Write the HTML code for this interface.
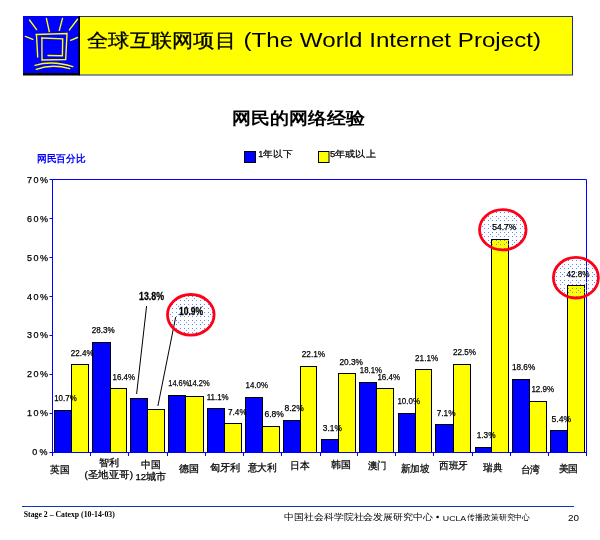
<!DOCTYPE html>
<html><head><meta charset="utf-8"><title>World Internet Project</title>
<style>
html,body{margin:0;padding:0;background:#fff;}
body{width:600px;height:540px;overflow:hidden;font-family:"Liberation Sans",sans-serif;}
svg{display:block;will-change:transform;}
text{font-family:"Liberation Sans",sans-serif;}
.l{stroke:#000;stroke-width:0.25px;}
.h{stroke:#000;stroke-width:0.3px;}
</style></head><body>
<svg width="600" height="540" viewBox="0 0 600 540">
<defs>
<pattern id="dots" x="0" y="0" width="8" height="8" patternUnits="userSpaceOnUse">
<rect x="0" y="0" width="1" height="1" fill="#5a8cff"/>
<rect x="4" y="0" width="1" height="1" fill="#5a8cff"/>
<rect x="0" y="4" width="1" height="1" fill="#5a8cff"/>
<rect x="4" y="4" width="1" height="1" fill="#5a8cff"/>
<rect x="2" y="2" width="1" height="1" fill="#5a8cff"/>
</pattern>
</defs>

<rect x="79.5" y="16.5" width="493" height="58.5" fill="#ffff00" stroke="#1a2f8c" stroke-width="1"/>
<rect x="23" y="16" width="57" height="59.5" fill="#000"/>
<rect x="23" y="16" width="55.3" height="57" fill="#0000ff"/>
<path d="M29.5,20 L36.6,29.6" fill="none" stroke="#ffff00" stroke-width="1.4" stroke-linecap="round"/>
<path d="M46.4,18.4 L49.3,31.6" fill="none" stroke="#ffff00" stroke-width="1.4" stroke-linecap="round"/>
<path d="M25.3,36.4 L32.8,39.4" fill="none" stroke="#ffff00" stroke-width="1.4" stroke-linecap="round"/>
<path d="M62.5,18.4 L59.3,30.4" fill="none" stroke="#ffff00" stroke-width="1.4" stroke-linecap="round"/>
<path d="M77.5,19.3 L69.4,29.9" fill="none" stroke="#ffff00" stroke-width="1.4" stroke-linecap="round"/>
<path d="M70.6,40.3 L77.5,37.5" fill="none" stroke="#ffff00" stroke-width="1.4" stroke-linecap="round"/>
<path d="M36,34.5 L67,33.5 L65.7,59.5 L42,60" fill="none" stroke="#ffff00" stroke-width="1.4" stroke-linecap="round"/>
<path d="M36.5,35 L37.7,57" fill="none" stroke="#ffff00" stroke-width="1.4" stroke-linecap="round"/>
<path d="M41.9,38 L62.7,38.9 L62.4,55.7 L48,55.5" fill="none" stroke="#ffff00" stroke-width="1.4" stroke-linecap="round"/>
<path d="M41.9,38 L42,60" fill="none" stroke="#ffff00" stroke-width="1.4" stroke-linecap="round"/>
<path d="M35,65.4 Q52,60 72.8,66.6" fill="none" stroke="#ffff00" stroke-width="1.4" stroke-linecap="round"/>
<path d="M36.2,69.3 Q52,63.5 69.6,68.7" fill="none" stroke="#ffff00" stroke-width="1.4" stroke-linecap="round"/>
<text class="h" x="87" y="47" font-size="19" fill="#000" textLength="149" lengthAdjust="spacingAndGlyphs">全球互联网项目</text>
<text x="243.5" y="47.3" font-size="21" fill="#000" textLength="297.5" lengthAdjust="spacingAndGlyphs">(The World Internet Project)</text>
<text x="232" y="124.2" font-size="16.5" font-weight="bold" fill="#000" textLength="133" lengthAdjust="spacingAndGlyphs">网民的网络经验</text>
<rect x="244.5" y="151.5" width="11" height="11" fill="#0000ff" stroke="#000" stroke-width="1"/>
<text class="l" x="258.3" y="156.6" font-size="8.5" fill="#000" textLength="33.8" lengthAdjust="spacingAndGlyphs">1年以下</text>
<rect x="318.5" y="151.5" width="10.5" height="11" fill="#ffff00" stroke="#000" stroke-width="1"/>
<text class="l" x="330" y="156.6" font-size="8.5" fill="#000" textLength="45.6" lengthAdjust="spacingAndGlyphs">5年或以上</text>
<text x="37" y="162" font-size="9.5" font-weight="bold" fill="#0000ff" textLength="48.6" lengthAdjust="spacingAndGlyphs">网民百分比</text>
<rect x="52.5" y="179.5" width="534.0" height="273.0" fill="#fff" stroke="none"/>
<rect x="54.5" y="410.5" width="17.0" height="42.0" fill="#0000ff" stroke="#000" stroke-width="1"/>
<rect x="71.5" y="364.5" width="17.0" height="88.0" fill="#ffff00" stroke="#000" stroke-width="1"/>
<rect x="92.5" y="342.5" width="18.0" height="110.0" fill="#0000ff" stroke="#000" stroke-width="1"/>
<rect x="110.5" y="388.5" width="16.0" height="64.0" fill="#ffff00" stroke="#000" stroke-width="1"/>
<rect x="130.5" y="398.5" width="17.0" height="54.0" fill="#0000ff" stroke="#000" stroke-width="1"/>
<rect x="147.5" y="409.5" width="17.0" height="43.0" fill="#ffff00" stroke="#000" stroke-width="1"/>
<rect x="168.5" y="395.5" width="17.0" height="57.0" fill="#0000ff" stroke="#000" stroke-width="1"/>
<rect x="185.5" y="396.5" width="18.0" height="56.0" fill="#ffff00" stroke="#000" stroke-width="1"/>
<rect x="207.5" y="408.5" width="17.0" height="44.0" fill="#0000ff" stroke="#000" stroke-width="1"/>
<rect x="224.5" y="423.5" width="17.0" height="29.0" fill="#ffff00" stroke="#000" stroke-width="1"/>
<rect x="245.5" y="397.5" width="17.0" height="55.0" fill="#0000ff" stroke="#000" stroke-width="1"/>
<rect x="262.5" y="426.5" width="17.0" height="26.0" fill="#ffff00" stroke="#000" stroke-width="1"/>
<rect x="283.5" y="420.5" width="17.0" height="32.0" fill="#0000ff" stroke="#000" stroke-width="1"/>
<rect x="300.5" y="366.5" width="16.0" height="86.0" fill="#ffff00" stroke="#000" stroke-width="1"/>
<rect x="321.5" y="439.5" width="17.0" height="13.0" fill="#0000ff" stroke="#000" stroke-width="1"/>
<rect x="338.5" y="373.5" width="17.0" height="79.0" fill="#ffff00" stroke="#000" stroke-width="1"/>
<rect x="359.5" y="382.5" width="17.0" height="70.0" fill="#0000ff" stroke="#000" stroke-width="1"/>
<rect x="376.5" y="388.5" width="17.0" height="64.0" fill="#ffff00" stroke="#000" stroke-width="1"/>
<rect x="398.5" y="413.5" width="17.0" height="39.0" fill="#0000ff" stroke="#000" stroke-width="1"/>
<rect x="415.5" y="369.5" width="16.0" height="83.0" fill="#ffff00" stroke="#000" stroke-width="1"/>
<rect x="435.5" y="424.5" width="18.0" height="28.0" fill="#0000ff" stroke="#000" stroke-width="1"/>
<rect x="453.5" y="364.5" width="17.0" height="88.0" fill="#ffff00" stroke="#000" stroke-width="1"/>
<rect x="475.5" y="447.5" width="16.0" height="5.0" fill="#0000ff" stroke="#000" stroke-width="1"/>
<rect x="491.5" y="239.5" width="17.0" height="213.0" fill="#ffff00" stroke="#000" stroke-width="1"/>
<rect x="512.5" y="379.5" width="17.0" height="73.0" fill="#0000ff" stroke="#000" stroke-width="1"/>
<rect x="529.5" y="401.5" width="17.0" height="51.0" fill="#ffff00" stroke="#000" stroke-width="1"/>
<rect x="550.5" y="430.5" width="17.0" height="22.0" fill="#0000ff" stroke="#000" stroke-width="1"/>
<rect x="567.5" y="285.5" width="17.0" height="167.0" fill="#ffff00" stroke="#000" stroke-width="1"/>
<path d="M52.5,456.0 L52.5,179.5 L586.5,179.5 L586.5,456.0 M52.5,452.5 L586.5,452.5" fill="none" stroke="#0000ff" stroke-width="1"/>
<path d="M49.5,452.5 L52.5,452.5 M49.5,413.5 L52.5,413.5 M49.5,374.5 L52.5,374.5 M49.5,335.5 L52.5,335.5 M49.5,296.5 L52.5,296.5 M49.5,257.5 L52.5,257.5 M49.5,218.5 L52.5,218.5 M49.5,179.5 L52.5,179.5 M52.5,452.5 L52.5,456.0 M90.5,452.5 L90.5,456.0 M128.5,452.5 L128.5,456.0 M167.5,452.5 L167.5,456.0 M205.5,452.5 L205.5,456.0 M243.5,452.5 L243.5,456.0 M281.5,452.5 L281.5,456.0 M320.5,452.5 L320.5,456.0 M357.5,452.5 L357.5,456.0 M395.5,452.5 L395.5,456.0 M433.5,452.5 L433.5,456.0 M472.5,452.5 L472.5,456.0 M510.5,452.5 L510.5,456.0 M548.5,452.5 L548.5,456.0 M586.5,452.5 L586.5,456.0" fill="none" stroke="#0000ff" stroke-width="1"/>
<text class="l" x="32.3" y="454.80" font-size="9" fill="#000" textLength="15.3" lengthAdjust="spacing">0%</text>
<text class="l" x="27.1" y="415.99" font-size="9" fill="#000" textLength="21" lengthAdjust="spacing">10%</text>
<text class="l" x="27.1" y="377.17" font-size="9" fill="#000" textLength="21" lengthAdjust="spacing">20%</text>
<text class="l" x="27.1" y="338.36" font-size="9" fill="#000" textLength="21" lengthAdjust="spacing">30%</text>
<text class="l" x="27.1" y="299.54" font-size="9" fill="#000" textLength="21" lengthAdjust="spacing">40%</text>
<text class="l" x="27.1" y="260.73" font-size="9" fill="#000" textLength="21" lengthAdjust="spacing">50%</text>
<text class="l" x="27.1" y="221.92" font-size="9" fill="#000" textLength="21" lengthAdjust="spacing">60%</text>
<text class="l" x="27.1" y="183.10" font-size="9" fill="#000" textLength="21" lengthAdjust="spacing">70%</text>
<path d="M146.6,306 L136.6,394 M175.7,317 L157.9,406" fill="none" stroke="#000" stroke-width="1"/>
<text class="l" x="54.2" y="400.8" font-size="9" fill="#000" textLength="22.5" lengthAdjust="spacingAndGlyphs">10.7%</text>
<text class="l" x="70.8" y="355.8" font-size="9" fill="#000" textLength="22.9" lengthAdjust="spacingAndGlyphs">22.4%</text>
<text class="l" x="91.7" y="333" font-size="9" fill="#000" textLength="23.0" lengthAdjust="spacingAndGlyphs">28.3%</text>
<text class="l" x="112.5" y="380" font-size="9" fill="#000" textLength="22.5" lengthAdjust="spacingAndGlyphs">16.4%</text>
<text class="l" x="168.3" y="386.3" font-size="9" fill="#000" textLength="20.9" lengthAdjust="spacingAndGlyphs">14.6%</text>
<text class="l" x="188.3" y="386.3" font-size="9" fill="#000" textLength="21.4" lengthAdjust="spacingAndGlyphs">14.2%</text>
<text class="l" x="206.7" y="400" font-size="9" fill="#000" textLength="22.0" lengthAdjust="spacingAndGlyphs">11.1%</text>
<text class="l" x="228" y="415.3" font-size="9" fill="#000" textLength="18.7" lengthAdjust="spacingAndGlyphs">7.4%</text>
<text class="l" x="245.6" y="388.1" font-size="9" fill="#000" textLength="22.5" lengthAdjust="spacingAndGlyphs">14.0%</text>
<text class="l" x="264.4" y="416.9" font-size="9" fill="#000" textLength="19.5" lengthAdjust="spacingAndGlyphs">6.8%</text>
<text class="l" x="284.4" y="410.9" font-size="9" fill="#000" textLength="19.5" lengthAdjust="spacingAndGlyphs">8.2%</text>
<text class="l" x="301.7" y="357" font-size="9" fill="#000" textLength="23.5" lengthAdjust="spacingAndGlyphs">22.1%</text>
<text class="l" x="322.8" y="430.7" font-size="9" fill="#000" textLength="19.1" lengthAdjust="spacingAndGlyphs">3.1%</text>
<text class="l" x="339.4" y="364.6" font-size="9" fill="#000" textLength="23.6" lengthAdjust="spacingAndGlyphs">20.3%</text>
<text class="l" x="359.8" y="373" font-size="9" fill="#000" textLength="22.2" lengthAdjust="spacingAndGlyphs">18.1%</text>
<text class="l" x="377.4" y="379.8" font-size="9" fill="#000" textLength="22.6" lengthAdjust="spacingAndGlyphs">16.4%</text>
<text class="l" x="397.4" y="403.9" font-size="9" fill="#000" textLength="22.6" lengthAdjust="spacingAndGlyphs">10.0%</text>
<text class="l" x="415.1" y="360.7" font-size="9" fill="#000" textLength="23.1" lengthAdjust="spacingAndGlyphs">21.1%</text>
<text class="l" x="436.7" y="415.6" font-size="9" fill="#000" textLength="18.9" lengthAdjust="spacingAndGlyphs">7.1%</text>
<text class="l" x="452.9" y="354.9" font-size="9" fill="#000" textLength="23.1" lengthAdjust="spacingAndGlyphs">22.5%</text>
<text class="l" x="476.7" y="438.4" font-size="9" fill="#000" textLength="18.9" lengthAdjust="spacingAndGlyphs">1.3%</text>
<text class="l" x="512" y="370" font-size="9" fill="#000" textLength="23.2" lengthAdjust="spacingAndGlyphs">18.6%</text>
<text class="l" x="531.4" y="392.4" font-size="9" fill="#000" textLength="22.8" lengthAdjust="spacingAndGlyphs">12.9%</text>
<text class="l" x="551.5" y="422.1" font-size="9" fill="#000" textLength="19.6" lengthAdjust="spacingAndGlyphs">5.4%</text>
<text class="h" x="139" y="299.7" font-size="11" font-weight="bold" fill="#000" textLength="25" lengthAdjust="spacingAndGlyphs">13.8%</text>
<ellipse cx="190.8" cy="314.8" rx="23.3" ry="20.3" fill="url(#dots)" stroke="#ff0018" stroke-width="2.8"/>
<ellipse cx="502.8" cy="229.8" rx="23.3" ry="20.1" fill="url(#dots)" stroke="#ff0018" stroke-width="2.8"/>
<ellipse cx="575.9" cy="277.7" rx="22.5" ry="20.3" fill="url(#dots)" stroke="#ff0018" stroke-width="2.8"/>
<text class="h" x="179" y="314.7" font-size="11" font-weight="bold" fill="#000" textLength="24" lengthAdjust="spacingAndGlyphs">10.9%</text>
<text class="l" x="492.3" y="229.9" font-size="9" fill="#000" textLength="23.9" lengthAdjust="spacingAndGlyphs">54.7%</text>
<text class="l" x="566.4" y="277.4" font-size="9" fill="#000" textLength="23.2" lengthAdjust="spacingAndGlyphs">42.8%</text>
<text class="l" x="50.4" y="473.3" font-size="9.5" fill="#000" textLength="19.3" lengthAdjust="spacingAndGlyphs">英国</text>
<text class="l" x="98.8" y="465.8" font-size="9.5" fill="#000" textLength="20.0" lengthAdjust="spacingAndGlyphs">智利</text>
<text class="l" x="84.6" y="477.8" font-size="9.5" fill="#000" textLength="48.4" lengthAdjust="spacingAndGlyphs">(圣地亚哥)</text>
<text class="l" x="141.29999999999998" y="467.8" font-size="9.5" fill="#000" textLength="19.5" lengthAdjust="spacingAndGlyphs">中国</text>
<text class="l" x="135.4" y="479.90000000000003" font-size="9.5" fill="#000" textLength="30.9" lengthAdjust="spacingAndGlyphs">12城市</text>
<text class="l" x="178.79999999999998" y="472.40000000000003" font-size="9.5" fill="#000" textLength="20.0" lengthAdjust="spacingAndGlyphs">德国</text>
<text class="l" x="209.6" y="470.70000000000005" font-size="9.5" fill="#000" textLength="30.5" lengthAdjust="spacingAndGlyphs">匈牙利</text>
<text class="l" x="247.6" y="470.70000000000005" font-size="9.5" fill="#000" textLength="29.3" lengthAdjust="spacingAndGlyphs">意大利</text>
<text class="l" x="290.0" y="469.1" font-size="9.5" fill="#000" textLength="19.5" lengthAdjust="spacingAndGlyphs">日本</text>
<text class="l" x="330.6" y="468.1" font-size="9.5" fill="#000" textLength="19.9" lengthAdjust="spacingAndGlyphs">韩国</text>
<text class="l" x="367.6" y="469.1" font-size="9.5" fill="#000" textLength="18.9" lengthAdjust="spacingAndGlyphs">澳门</text>
<text class="l" x="400.6" y="471.5" font-size="9.5" fill="#000" textLength="28.9" lengthAdjust="spacingAndGlyphs">新加坡</text>
<text class="l" x="439.20000000000005" y="469.1" font-size="9.5" fill="#000" textLength="28.9" lengthAdjust="spacingAndGlyphs">西班牙</text>
<text class="l" x="483.20000000000005" y="470.70000000000005" font-size="9.5" fill="#000" textLength="19.3" lengthAdjust="spacingAndGlyphs">瑞典</text>
<text class="l" x="520.6" y="472.70000000000005" font-size="9.5" fill="#000" textLength="19.5" lengthAdjust="spacingAndGlyphs">台湾</text>
<text class="l" x="558.6" y="471.5" font-size="9.5" fill="#000" textLength="19.5" lengthAdjust="spacingAndGlyphs">美国</text>
<path d="M22,506.5 L574,506.5" stroke="#1438b4" stroke-width="1"/>
<text x="23.75" y="516.8" font-family="Liberation Serif" font-size="8.5" font-weight="bold" fill="#000" textLength="91" lengthAdjust="spacingAndGlyphs" style="font-family:'Liberation Serif',serif">Stage 2 – Catexp (10-14-03)</text>
<text x="284.3" y="520.3" font-size="8.6" fill="#000" textLength="148.5" lengthAdjust="spacingAndGlyphs">中国社会科学院社会发展研究中心</text>
<circle cx="437.6" cy="517" r="1.3" fill="#000"/>
<text x="442.8" y="520.8" font-size="7.5" fill="#000" textLength="23.4" lengthAdjust="spacingAndGlyphs">UCLA</text>
<text x="467.3" y="520.3" font-size="7.6" fill="#000" textLength="62.8" lengthAdjust="spacingAndGlyphs">传播政策研究中心</text>
<text x="568" y="520.5" font-size="8.5" fill="#000" textLength="11" lengthAdjust="spacingAndGlyphs">20</text>
</svg>
</body></html>
